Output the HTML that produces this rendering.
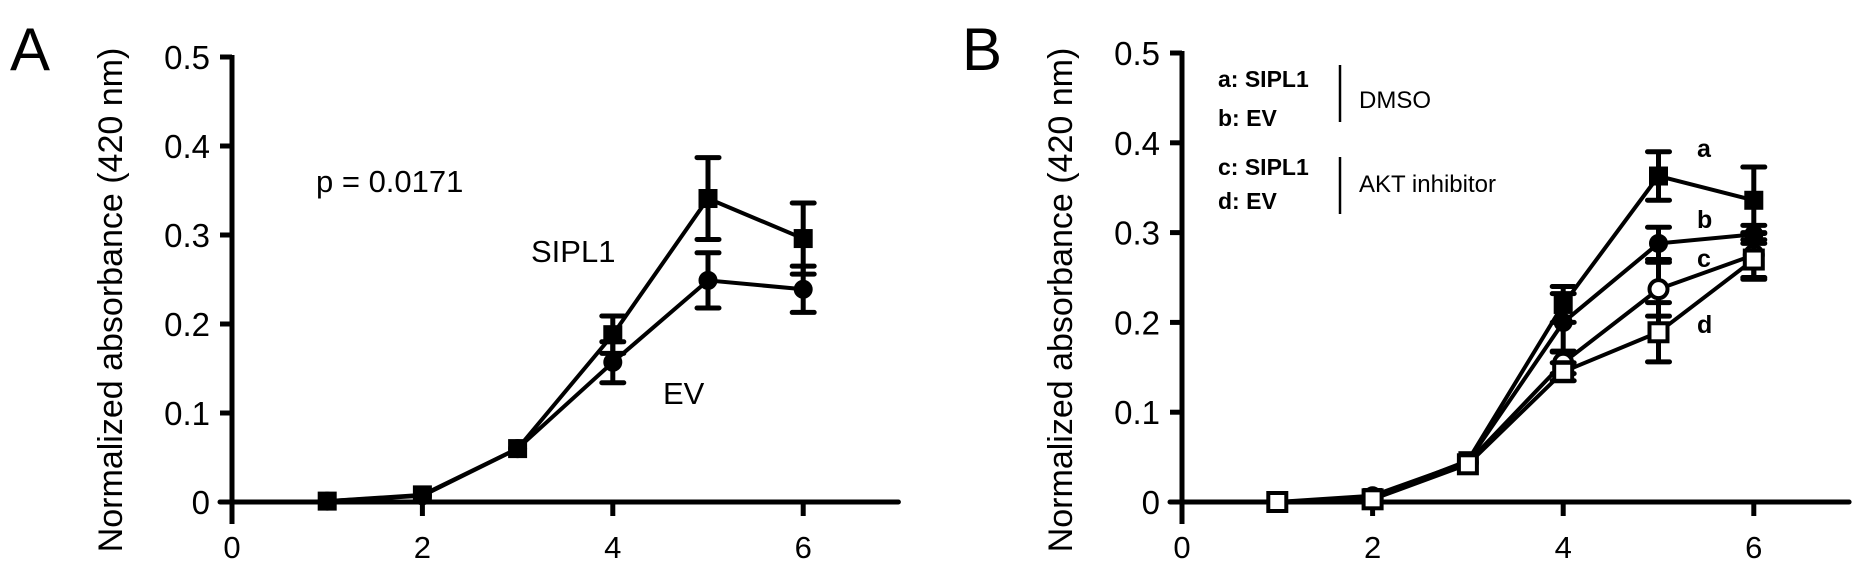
<!DOCTYPE html>
<html><head><meta charset="utf-8"><style>
html,body{margin:0;padding:0;background:#fff}
svg{display:block}
text{font-family:"Liberation Sans",Arial,sans-serif;fill:#000}
</style></head><body>
<svg id="fig" width="1868" height="571" viewBox="0 0 1868 571" xmlns="http://www.w3.org/2000/svg">
<text x="10" y="70" font-size="60">A</text>
<text x="962" y="70" font-size="60">B</text>
<text transform="translate(122,300) rotate(-90)" text-anchor="middle" font-size="34">Normalized absorbance (420 nm)</text>
<text transform="translate(1072,300) rotate(-90)" text-anchor="middle" font-size="34">Normalized absorbance (420 nm)</text>
<text x="316" y="192" font-size="31">p = 0.0171</text>
<text x="531" y="262" font-size="31">SIPL1</text>
<text x="663" y="404" font-size="31">EV</text>
<g>
<text x="1218" y="87" font-size="23" font-weight="bold">a: SIPL1</text>
<text x="1218" y="126" font-size="23" font-weight="bold">b: EV</text>
<text x="1218" y="175" font-size="23" font-weight="bold">c: SIPL1</text>
<text x="1218" y="209" font-size="23" font-weight="bold">d: EV</text>
<line x1="1340" y1="65" x2="1340" y2="122" stroke="#000" stroke-width="2.5"/>
<line x1="1340" y1="157" x2="1340" y2="214" stroke="#000" stroke-width="2.5"/>
<text x="1359" y="108" font-size="24">DMSO</text>
<text x="1359" y="192" font-size="24">AKT inhibitor</text>
</g>
<text x="1697" y="157" font-size="25" font-weight="bold">a</text>
<text x="1697" y="228" font-size="25" font-weight="bold">b</text>
<text x="1697" y="267" font-size="25" font-weight="bold">c</text>
<text x="1697" y="333" font-size="25" font-weight="bold">d</text>
</svg>
<script>
// Shared data
const xDays = [1, 2, 3, 4, 5, 6];
const yTicks = [0, 0.1, 0.2, 0.3, 0.4, 0.5];
const yTickLabels = ["0", "0.1", "0.2", "0.3", "0.4", "0.5"];
const xTicks = [0, 2, 4, 6];
const xTickLabels = ["0", "2", "4", "6"];
// Panel A
const aSipl1 = [0.001, 0.008, 0.06, 0.188, 0.341, 0.296];
const aSipl1Err = [0, 0, 0, 0.021, 0.046, 0.04];
const aEv = [0.001, 0.007, 0.06, 0.157, 0.249, 0.239];
const aEvErr = [0, 0, 0, 0.023, 0.031, 0.026];
// Panel B
const bA = [0, 0.005, 0.046, 0.22, 0.363, 0.336];
const bAErr = [0, 0, 0, 0.02, 0.027, 0.037];
const bB = [0, 0.007, 0.045, 0.2, 0.288, 0.298];
const bBErr = [0, 0, 0, 0.032, 0.018, 0.01];
const bC = [0, 0.004, 0.044, 0.155, 0.237, 0.275];
const bCErr = [0, 0, 0, 0.012, 0.03, 0.025];
const bD = [0, 0.003, 0.042, 0.145, 0.189, 0.27];
const bDErr = [0, 0, 0, 0.01, 0.033, 0.022];

const NS = "http://www.w3.org/2000/svg";
const svg = document.getElementById('fig');
function mk(tag, attrs, parent) {
  const e = document.createElementNS(NS, tag);
  for (const k in attrs) e.setAttribute(k, attrs[k]);
  (parent || svg).appendChild(e);
  return e;
}
function panel(x0, y0, xu, yu, series, pfx) {
  const sx = v => x0 + v * xu;
  const sy = v => y0 - v * yu;
  const g = mk('g', {});
  
  
  const ya = mk('line', {x1: x0, y1: sy(0.5) - 2, x2: x0, y2: y0 + 22, stroke: '#000', 'stroke-width': 5}, g);
  
  
  const xa = mk('line', {x1: x0 - 12, y1: y0, x2: sx(7), y2: y0, stroke: '#000', 'stroke-width': 5, 'stroke-linecap': 'round'}, g);
  
  
  yTicks.forEach((t, i) => {
    mk('line', {x1: x0 - 12, y1: sy(t), x2: x0, y2: sy(t), stroke: '#000', 'stroke-width': 5}, g);
    const tx = mk('text', {x: x0 - 22, y: sy(t) + 12, 'text-anchor': 'end', 'font-size': 33}, g);
    tx.textContent = yTickLabels[i];
    
    
  });
  xTicks.forEach((t, i) => {
    mk('line', {x1: sx(t), y1: y0, x2: sx(t), y2: y0 + 14, stroke: '#000', 'stroke-width': 5}, g);
    const tx = mk('text', {x: sx(t), y: y0 + 56, 'text-anchor': 'middle', 'font-size': 31}, g);
    tx.textContent = xTickLabels[i];
    
    
  });
  series.forEach(s => {
    const sg = mk('g', {});
    
    
    const pts = s.vals.map((v, i) => sx(xDays[i]) + ',' + sy(v)).join(' ');
    mk('polyline', {points: pts, fill: 'none', stroke: '#000', 'stroke-width': 4}, sg);
    s.vals.forEach((v, i) => {
      const cx = sx(xDays[i]), cy = sy(v), e = s.err[i];
      if (e > 0) {
        const eb = mk('path', {d: `M${cx},${sy(v + e)}V${sy(v - e)}M${cx - 11},${sy(v + e)}H${cx + 11}M${cx - 11},${sy(v - e)}H${cx + 11}`, stroke: '#000', 'stroke-width': 5, 'stroke-linecap': 'round', fill: 'none'}, sg);
        
        
      }
      let m;
      if (s.shape === 'square') m = mk('rect', {x: cx - 9, y: cy - 9, width: 18, height: 18, fill: s.open ? '#fff' : '#000', stroke: '#000', 'stroke-width': s.open ? 4 : 1}, sg);
      else m = mk('circle', {cx: cx, cy: cy, r: 9, fill: s.open ? '#fff' : '#000', stroke: '#000', 'stroke-width': s.open ? 4 : 1}, sg);
      
      
    });
  });
}
panel(232, 502, 95.2, 890, [
  {name: 'sipl1', vals: aSipl1, err: aSipl1Err, shape: 'square', open: false},
  {name: 'ev', vals: aEv, err: aEvErr, shape: 'circle', open: false}
], 'panel-a');
panel(1182, 502, 95.3, 898, [
  {name: 'a', vals: bA, err: bAErr, shape: 'square', open: false},
  {name: 'b', vals: bB, err: bBErr, shape: 'circle', open: false},
  {name: 'c', vals: bC, err: bCErr, shape: 'circle', open: true},
  {name: 'd', vals: bD, err: bDErr, shape: 'square', open: true}
], 'panel-b');
</script>
</body></html>
